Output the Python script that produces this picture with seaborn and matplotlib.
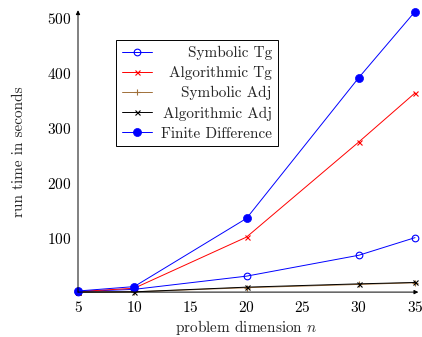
import matplotlib
matplotlib.use("Agg")
import matplotlib.pyplot as plt
import seaborn as sns

# problem sizes and measured run times (seconds)
n = [5, 10, 20, 30, 35]
symbolic_tg = [2, 6, 30, 68, 100]
algorithmic_tg = [2, 8, 101, 274, 363]
symbolic_adj = [1, 1.5, 9, 15, 18]
algorithmic_adj = [1, 1.5, 10, 16, 18.5]
finite_diff = [3, 11, 135, 391, 511]

labels = ["Symbolic Tg", "Algorithmic Tg", "Symbolic Adj",
          "Algorithmic Adj", "Finite Difference"]
x_ticks = [5, 10, 15, 20, 25, 30, 35]
y_ticks = [100, 200, 300, 400, 500]

sns.set_style("white")
plt.rcParams["font.family"] = ["cmr10", "DejaVu Serif"]
plt.rcParams["mathtext.fontset"] = "cm"
plt.rcParams["axes.unicode_minus"] = False
plt.rcParams["axes.formatter.use_mathtext"] = True

FS = 11
BLUE, RED, BROWN = "#0000ff", "#ff0000", "#a0703a"

fig = plt.figure(figsize=(4.22, 3.37), dpi=100)
ax = fig.add_axes([78 / 422, 1 - 292.1 / 337, 337 / 422, (292.1 - 11.6) / 337])

styles = [
    (symbolic_tg, dict(color=BLUE, marker="o", markersize=4.8,
                       markerfacecolor="none", markeredgecolor=BLUE,
                       markeredgewidth=0.8)),
    (algorithmic_tg, dict(color=RED, marker="x", markersize=3.6,
                          markeredgecolor=RED, markeredgewidth=0.8)),
    (symbolic_adj, dict(color=BROWN, marker="+", markersize=4.2,
                        markeredgecolor=BROWN, markeredgewidth=0.8)),
    (algorithmic_adj, dict(color="black", marker="x", markersize=3.6,
                           markeredgecolor="black", markeredgewidth=0.8)),
    (finite_diff, dict(color=BLUE, marker="o", markersize=5.8,
                       markerfacecolor=BLUE, markeredgecolor=BLUE,
                       markeredgewidth=0.5)),
]

for (vals, kw), lab in zip(styles, labels):
    sns.lineplot(x=n, y=vals, ax=ax, label=lab, linewidth=0.7,
                 clip_on=False, **kw)

ax.set_xlim(5, 35)
ax.set_ylim(1, 511)
ax.set_xticks(x_ticks)
ax.set_yticks(y_ticks)
ax.tick_params(axis="both", direction="inout", length=4, width=0.5,
               labelsize=FS, colors="black", pad=3)
ax.tick_params(axis="x", pad=3.5)
for s in ax.spines.values():
    s.set_visible(False)
ax.grid(False)

# axis lines ending in arrow heads
arrow = dict(arrowstyle="-|>", lw=0.7, color="black", mutation_scale=6,
             shrinkA=0, shrinkB=0)
ax.annotate("", xy=(1.01, 0), xytext=(0, 0), xycoords="axes fraction",
            arrowprops=arrow)
ax.annotate("", xy=(0, 1.005), xytext=(0, 0), xycoords="axes fraction",
            arrowprops=arrow)

ax.set_xlabel("problem dimension $n$", fontsize=FS, labelpad=2)
ax.set_ylabel("run time in seconds", fontsize=FS, labelpad=15)

leg = ax.legend(loc="upper left", bbox_to_anchor=(116 / 422, 1 - 40 / 337),
                bbox_transform=fig.transFigure, borderaxespad=0,
                fontsize=FS, frameon=True, fancybox=False, shadow=False,
                edgecolor="black", framealpha=1, handlelength=2.0,
                handletextpad=0.55, labelspacing=0.4, borderpad=0.38)
leg.get_frame().set_linewidth(0.7)

# right-align the legend entries' text
fig.canvas.draw()
renderer = fig.canvas.get_renderer()
texts = leg.get_texts()
widths = [t.get_window_extent(renderer).width for t in texts]
widest = max(widths)
dpicor = renderer.points_to_pixels(1.0)
column = leg._legend_handle_box.get_children()[0]
for item, w in zip(column.get_children(), widths):
    item.sep = leg.handletextpad * leg._fontsize + (widest - w) / dpicor

fig.savefig("out.png", dpi=100)
